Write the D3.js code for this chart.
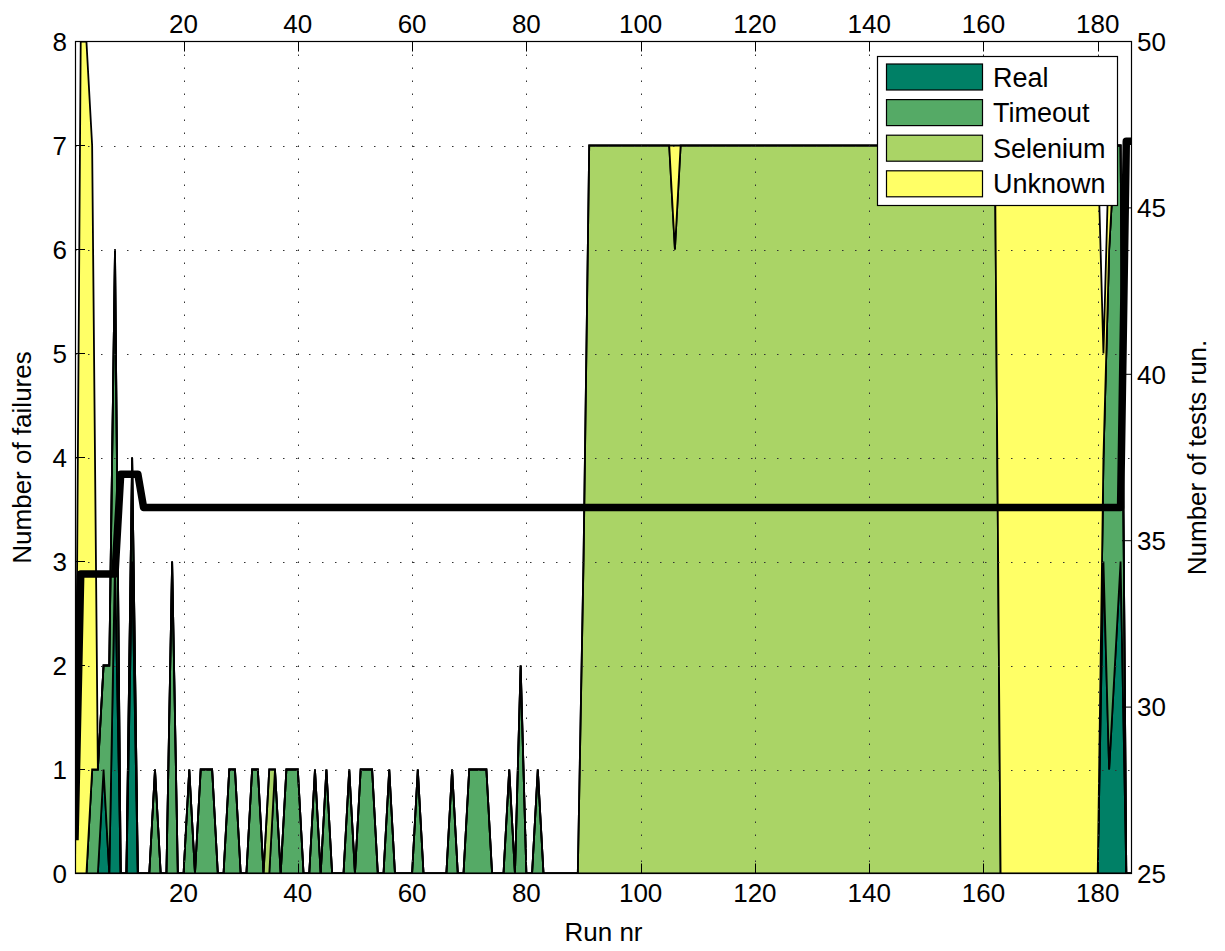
<!DOCTYPE html>
<html>
<head>
<meta charset="utf-8">
<script src="https://cdnjs.cloudflare.com/ajax/libs/d3/7.8.5/d3.min.js"></script>
<style>
body { margin: 0; background: #fff; }
svg text { font-family: "Liberation Sans", Arial, Helvetica, sans-serif; font-size: 26px; fill: #000; }
</style>
</head>
<body>
<svg id="chart" width="1225" height="951"></svg>
<script>
// failures per run, stacked by cause (runs 1..186)
var real = [
	0,0,0,0,0,1,0,3,0,0, 3,0,0,0,0,0,0,0,0,0,
	0,0,0,0,0,0,0,0,0,0, 0,0,0,0,0,0,0,0,0,0,
	0,0,0,0,0,0,0,0,0,0, 0,0,0,0,0,0,0,0,0,0,
	0,0,0,0,0,0,0,0,0,0, 0,0,0,0,0,0,0,0,0,0,
	0,0,0,0,0,0,0,0,0,0, 0,0,0,0,0,0,0,0,0,0,
	0,0,0,0,0,0,0,0,0,0, 0,0,0,0,0,0,0,0,0,0,
	0,0,0,0,0,0,0,0,0,0, 0,0,0,0,0,0,0,0,0,0,
	0,0,0,0,0,0,0,0,0,0, 0,0,0,0,0,0,0,0,0,0,
	0,0,0,0,0,0,0,0,0,0, 0,0,0,0,0,0,0,0,0,0,
	3,1,2,3,0,0
];
var timeout = [
	0,0,0,1,1,1,2,3,0,0, 1,0,0,0,1,0,0,3,0,0,
	1,0,1,1,1,0,0,1,1,0, 0,1,1,0,0,1,0,1,1,1,
	0,0,1,0,1,0,0,0,1,0, 1,1,1,0,0,1,0,0,0,0,
	1,0,0,0,0,0,1,0,0,1, 1,1,1,0,0,0,1,0,2,0,
	0,1,0,0,0,0,0,0,0,0, 0,0,0,0,0,0,0,0,0,0,
	0,0,0,0,0,0,0,0,0,0, 0,0,0,0,0,0,0,0,0,0,
	0,0,0,0,0,0,0,0,0,0, 0,0,0,0,0,0,0,0,0,0,
	0,0,0,0,0,0,0,0,0,0, 0,0,0,0,0,0,0,0,0,0,
	0,0,0,0,0,0,0,0,0,0, 0,0,0,0,0,0,0,0,0,0,
	1,5,5,4,0,0
];
var selenium = [
	0,0,0,0,0,0,0,0,0,0, 0,0,0,0,0,0,0,0,0,0,
	0,0,0,0,0,0,0,0,0,0, 0,0,0,0,1,0,0,0,0,0,
	0,0,0,0,0,0,0,0,0,0, 0,0,0,0,0,0,0,0,0,0,
	0,0,0,0,0,0,0,0,0,0, 0,0,0,0,0,0,0,0,0,0,
	0,0,0,0,0,0,0,0,0,3, 7,7,7,7,7,7,7,7,7,7,
	7,7,7,7,7,6,7,7,7,7, 7,7,7,7,7,7,7,7,7,7,
	7,7,7,7,7,7,7,7,7,7, 7,7,7,7,7,7,7,7,7,7,
	7,7,7,7,7,7,7,7,7,7, 7,7,7,7,7,7,7,7,7,7,
	7,7,0,0,0,0,0,0,0,0, 0,0,0,0,0,0,0,0,0,0,
	0,0,0,0,0,0
];
var unknown = [
	0,8,8,6,0,0,0,0,0,0, 0,0,0,0,0,0,0,0,0,0,
	0,0,0,0,0,0,0,0,0,0, 0,0,0,0,0,0,0,0,0,0,
	0,0,0,0,0,0,0,0,0,0, 0,0,0,0,0,0,0,0,0,0,
	0,0,0,0,0,0,0,0,0,0, 0,0,0,0,0,0,0,0,0,0,
	0,0,0,0,0,0,0,0,0,0, 0,0,0,0,0,0,0,0,0,0,
	0,0,0,0,0,1,0,0,0,0, 0,0,0,0,0,0,0,0,0,0,
	0,0,0,0,0,0,0,0,0,0, 0,0,0,0,0,0,0,0,0,0,
	0,0,0,0,0,0,0,0,0,0, 0,0,0,0,0,0,0,0,0,0,
	0,0,7,7,7,7,7,7,7,7, 7,7,7,7,7,7,7,7,7,7,
	1,1,0,0,0,0
];
// number of tests run (right axis)
var tests = [
	26,34,34,34,34,34,34,34,37,37, 37,37,36,36,36,36,36,36,36,36,
	36,36,36,36,36,36,36,36,36,36, 36,36,36,36,36,36,36,36,36,36,
	36,36,36,36,36,36,36,36,36,36, 36,36,36,36,36,36,36,36,36,36,
	36,36,36,36,36,36,36,36,36,36, 36,36,36,36,36,36,36,36,36,36,
	36,36,36,36,36,36,36,36,36,36, 36,36,36,36,36,36,36,36,36,36,
	36,36,36,36,36,36,36,36,36,36, 36,36,36,36,36,36,36,36,36,36,
	36,36,36,36,36,36,36,36,36,36, 36,36,36,36,36,36,36,36,36,36,
	36,36,36,36,36,36,36,36,36,36, 36,36,36,36,36,36,36,36,36,36,
	36,36,36,36,36,36,36,36,36,36, 36,36,36,36,36,36,36,36,36,36,
	36,36,36,36,47,47
];

var seriesNames = ['Real', 'Timeout', 'Selenium', 'Unknown'];
var seriesColors = ['#008066', '#55aa66', '#aad466', '#ffff66'];
var xTicks = [20, 40, 60, 80, 100, 120, 140, 160, 180];
var leftTicks = [0, 1, 2, 3, 4, 5, 6, 7, 8];
var rightTicks = [25, 30, 35, 40, 45, 50];

var pLeft = 75, pRight = 1132, pTop = 41.5, pBottom = 873.5;

var x = d3.scaleLinear().domain([1, 186]).range([pLeft, pRight]);
var yL = d3.scaleLinear().domain([0, 8]).range([pBottom, pTop]);
var yR = d3.scaleLinear().domain([25, 50]).range([pBottom, pTop]);

var table = real.map(function(v, i) {
	return {run: i + 1, Real: real[i], Timeout: timeout[i], Selenium: selenium[i], Unknown: unknown[i], tests: tests[i]};
});
var layers = d3.stack().keys(seriesNames)(table);

var svg = d3.select('#chart');

svg.append('clipPath')
	.attr('id', 'plotclip')
	.append('rect')
	.attr('x', pLeft)
	.attr('y', pTop)
	.attr('width', pRight - pLeft)
	.attr('height', pBottom - pTop);

var plot = svg.append('g').attr('clip-path', 'url(#plotclip)');

var area = d3.area()
	.x(function(d) { return x(d.data.run); })
	.y0(function(d) { return yL(d[0]); })
	.y1(function(d) { return yL(d[1]); });

plot.selectAll('path.layer')
	.data(layers)
	.enter().append('path')
	.attr('class', 'layer')
	.attr('d', area)
	.attr('fill', function(d, i) { return seriesColors[i]; })
	.attr('stroke', '#000')
	.attr('stroke-width', 1.8);

// dotted grid, drawn over the areas
plot.selectAll('line.gx')
	.data(xTicks)
	.enter().append('line')
	.attr('x1', function(d) { return Math.round(x(d)) + 0.5; })
	.attr('x2', function(d) { return Math.round(x(d)) + 0.5; })
	.attr('y1', pTop)
	.attr('y2', pBottom)
	.attr('stroke', '#333')
	.attr('stroke-width', 1)
	.attr('stroke-dasharray', '1.5,11.5');

plot.selectAll('line.gy')
	.data(leftTicks.slice(1, -1))
	.enter().append('line')
	.attr('x1', pLeft)
	.attr('x2', pRight)
	.attr('y1', function(d) { return Math.round(yL(d)) + 0.5; })
	.attr('y2', function(d) { return Math.round(yL(d)) + 0.5; })
	.attr('stroke', '#333')
	.attr('stroke-width', 1)
	.attr('stroke-dasharray', '1.5,11.5');

var testLine = d3.line()
	.x(function(d) { return x(d.run); })
	.y(function(d) { return yR(d.tests); });

plot.append('path')
	.attr('d', testLine(table))
	.attr('fill', 'none')
	.attr('stroke', '#000')
	.attr('stroke-width', 7.5)
	.attr('stroke-linejoin', 'round');

// box
svg.append('rect')
	.attr('x', pLeft + 0.5)
	.attr('y', pTop)
	.attr('width', pRight - pLeft - 1)
	.attr('height', pBottom - pTop)
	.attr('fill', 'none')
	.attr('stroke', '#000')
	.attr('stroke-width', 1.2);

// ticks
var ticks = svg.append('g').attr('stroke', '#000').attr('stroke-width', 1);
xTicks.forEach(function(t) {
	var px = Math.round(x(t)) + 0.5;
	ticks.append('line').attr('x1', px).attr('x2', px).attr('y1', pBottom).attr('y2', pBottom - 10);
	ticks.append('line').attr('x1', px).attr('x2', px).attr('y1', pTop).attr('y2', pTop + 10);
});
leftTicks.forEach(function(t) {
	ticks.append('line').attr('x1', pLeft).attr('x2', pLeft + 10).attr('y1', yL(t)).attr('y2', yL(t));
});
rightTicks.forEach(function(t) {
	ticks.append('line').attr('x1', pRight).attr('x2', pRight - 10).attr('y1', yR(t)).attr('y2', yR(t));
});

// tick labels
svg.selectAll('text.xb')
	.data(xTicks)
	.enter().append('text')
	.attr('x', function(d) { return x(d); })
	.attr('y', 902)
	.attr('text-anchor', 'middle')
	.text(function(d) { return d; });

svg.selectAll('text.xt')
	.data(xTicks)
	.enter().append('text')
	.attr('x', function(d) { return x(d); })
	.attr('y', 32.5)
	.attr('text-anchor', 'middle')
	.text(function(d) { return d; });

svg.selectAll('text.yl')
	.data(leftTicks)
	.enter().append('text')
	.attr('x', 67)
	.attr('y', function(d) { return yL(d) + 9.3; })
	.attr('text-anchor', 'end')
	.text(function(d) { return d; });

svg.selectAll('text.yr')
	.data(rightTicks)
	.enter().append('text')
	.attr('x', 1137)
	.attr('y', function(d) { return yR(d) + 9.3; })
	.attr('text-anchor', 'start')
	.text(function(d) { return d; });

// axis titles
svg.append('text')
	.attr('x', (pLeft + pRight) / 2)
	.attr('y', 941)
	.attr('text-anchor', 'middle')
	.text('Run nr');

svg.append('text')
	.attr('transform', 'translate(31,' + (pTop + pBottom) / 2 + ') rotate(-90)')
	.attr('text-anchor', 'middle')
	.text('Number of failures');

svg.append('text')
	.attr('transform', 'translate(1206,' + (pTop + pBottom) / 2 + ') rotate(-90)')
	.attr('text-anchor', 'middle')
	.text('Number of tests run.');

// legend
var legend = svg.append('g');
legend.append('rect')
	.attr('x', 877.5)
	.attr('y', 56.5)
	.attr('width', 240)
	.attr('height', 149)
	.attr('fill', '#fff')
	.attr('stroke', '#000')
	.attr('stroke-width', 1.2);

seriesNames.forEach(function(name, i) {
	var cy = 77 + i * 35.6;
	legend.append('rect')
		.attr('x', 886.5)
		.attr('y', cy - 13)
		.attr('width', 96)
		.attr('height', 26)
		.attr('fill', seriesColors[i])
		.attr('stroke', '#000')
		.attr('stroke-width', 1.2);
	legend.append('text')
		.attr('x', 993)
		.attr('y', cy + 9.5)
		.style('font-size', '27px')
		.text(name);
});
</script>
</body>
</html>
